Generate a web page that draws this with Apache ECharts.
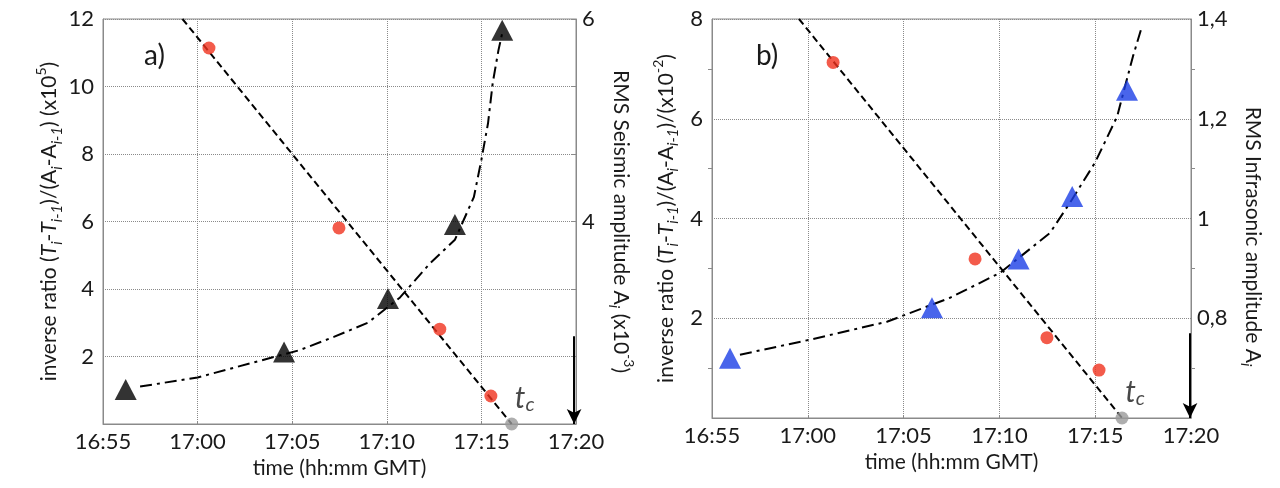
<!DOCTYPE html>
<html>
<head>
<meta charset="utf-8">
<script src="https://cdn.jsdelivr.net/npm/echarts@6/dist/echarts.min.js"></script>
<style>html,body{margin:0;padding:0;background:#fff;}#c{width:1280px;height:488px;}</style>
</head>
<body>
<div id="c"></div>
<script>
// ---- tick labels ----
const xTicks = ['16:55', '17:00', '17:05', '17:10', '17:15', '17:20'];
const leftValsA = [2, 4, 6, 8, 10, 12];
const leftLabelsA = ['2', '4', '6', '8', '10', '12'];
const rightValsA = [4, 6];
const rightLabelsA = ['4', '6'];
const leftValsB = [2, 4, 6, 8];
const leftLabelsB = ['2', '4', '6', '8'];
const rightValsB = [0.8, 1.0, 1.2, 1.4];
const rightLabelsB = ['0,8', '1', '1,2', '1,4'];

// ---- panel a data (time in minutes after 16:00) ----
const redTimeA = [60.6, 67.47, 72.8, 75.5];
const redValA = [11.14, 5.81, 2.81, 0.83];
const tcTimeA = [76.6];
const tcValA = [0];
const fitTimeA = [59.2, 76.6];
const fitValA = [12, 0];
const triTimeA = [56.2, 64.57, 70.06, 73.6, 76.1];
const triValA = [2.34, 2.71, 3.24, 3.97, 5.89];
const curveTimeA = [56.96, 60.0, 65.4, 67.2, 69.0, 70.7, 72.3, 73.6, 74.6, 75.0, 75.35, 75.6, 75.9, 76.1];
const curveValA = [2.37, 2.46, 2.73, 2.86, 3.0, 3.25, 3.59, 3.82, 4.24, 4.61, 4.97, 5.37, 5.69, 5.86];
const arrowTimeA = [79.9, 79.9];
const arrowValA = [2.6, 0];

// ---- panel b data ----
const redTimeB = [61.32, 68.73, 72.48, 75.2];
const redValB = [7.13, 3.19, 1.61, 0.96];
const tcTimeB = [76.4];
const tcValB = [0];
const fitTimeB = [59.54, 76.4];
const fitValB = [8, 0];
const triTimeB = [55.94, 66.48, 71.0, 73.8, 76.66];
const triValB = [0.72, 0.821, 0.919, 1.044, 1.257];
const curveTimeB = [56.46, 60.11, 64.13, 67.42, 70.03, 72.64, 73.79, 74.99, 76.14, 76.97, 77.44];
const curveValB = [0.727, 0.757, 0.793, 0.841, 0.891, 0.971, 1.038, 1.112, 1.204, 1.325, 1.385];
const arrowTimeB = [79.95, 79.95];
const arrowValB = [1.7, 0];

const zip = (a, b) => a.map((v, i) => [v, b[i]]);
const pick = (vals, labels) => v => {
  const i = vals.findIndex(t => Math.abs(t - v) < 1e-6);
  return i < 0 ? '' : labels[i];
};

const FONT = 'Lato';
const TXT = '#1a1a1a';
const GRID = '#8a8a8a';
const RED = '#f0321e';
const BLUE = '#1c3ee6';

const nameRich = {
  n: { fontSize: 21, lineHeight: 30, fontFamily: FONT, color: TXT },
  it: { fontSize: 21, lineHeight: 30, fontFamily: FONT, fontStyle: 'italic', color: TXT },
  sub: { fontSize: 15, lineHeight: 15, fontFamily: FONT, fontStyle: 'italic', color: TXT, verticalAlign: 'bottom' },
  sup: { fontSize: 14, lineHeight: 14, fontFamily: FONT, color: TXT, verticalAlign: 'top' }
};

function xAxis(gi) {
  return {
    type: 'value', gridIndex: gi, min: 55, max: 80, interval: 5,
    name: 'time (hh:mm GMT)', nameLocation: 'middle', nameGap: 34,
    nameTextStyle: { fontSize: 21, fontFamily: FONT, color: TXT },
    axisLine: { show: true, lineStyle: { color: GRID } },
    axisTick: { show: true, inside: true, length: 3, lineStyle: { color: GRID } },
    axisLabel: { fontSize: 22, fontFamily: FONT, color: TXT, margin: 7,
      formatter: v => xTicks[Math.round((v - 55) / 5)] },
    splitLine: { show: true, lineStyle: { color: GRID, type: 'dotted' } }
  };
}

const tcLabel = {
  show: true, position: 'top', distance: 3, offset: [13, 0],
  formatter: '{t|t}{c|c}',
  rich: {
    t: { fontSize: 30, lineHeight: 32, fontStyle: 'italic', fontFamily: FONT, color: TXT },
    c: { fontSize: 20, lineHeight: 19, fontStyle: 'italic', fontFamily: FONT, color: TXT, verticalAlign: 'bottom' }
  }
};

function arrowLine(t, v) {
  return {
    silent: true,
    symbol: ['none', 'arrow'],
    symbolSize: [11, 15],
    label: { show: false },
    lineStyle: { color: '#000', width: 2, type: 'solid' },
    data: [[{ coord: [t[0], v[0]] }, { coord: [t[1], v[1]] }]]
  };
}

const option = {
  animation: false,
  backgroundColor: '#fff',
  title: [
    { text: 'a)', left: 139, top: 37, textStyle: { fontSize: 28, fontWeight: 'normal', fontFamily: FONT, color: TXT } },
    { text: 'b)', left: 751, top: 37, textStyle: { fontSize: 28, fontWeight: 'normal', fontFamily: FONT, color: TXT } }
  ],
  grid: [
    { left: 103, top: 19, width: 473, height: 405, show: true, borderColor: GRID, borderWidth: 1, backgroundColor: 'transparent' },
    { left: 712, top: 19, width: 479, height: 399, show: true, borderColor: GRID, borderWidth: 1, backgroundColor: 'transparent' }
  ],
  xAxis: [xAxis(0), xAxis(1)],
  yAxis: [
    {
      type: 'value', gridIndex: 0, min: 0, max: 12, interval: 2, position: 'left',
      name: '{n|inverse ratio (}{it|T}{sub|i}{n|-}{it|T}{sub|i-1}{n|)/(A}{sub|i}{n|-A}{sub|i-1}{n|) (x10}{sup|5}{n|)}',
      nameLocation: 'middle', nameGap: 35, nameRotate: 90,
      nameTextStyle: { rich: nameRich },
      axisLine: { show: true, lineStyle: { color: GRID } },
      axisTick: { show: false },
      axisLabel: { fontSize: 22, fontFamily: FONT, color: TXT, margin: 9, formatter: pick(leftValsA, leftLabelsA) },
      splitLine: { show: true, lineStyle: { color: GRID, type: 'dotted' } }
    },
    {
      type: 'value', gridIndex: 0, min: 2, max: 6, interval: 2 / 3, position: 'right',
      name: '{n|RMS Seismic amplitude A}{sub|i}{n| (x10}{sup|-3}{n|)}',
      nameLocation: 'middle', nameGap: 30, nameRotate: -90,
      nameTextStyle: { rich: nameRich },
      axisLine: { show: true, lineStyle: { color: GRID } },
      axisTick: { show: true, inside: true, length: 4, lineStyle: { color: GRID } },
      axisLabel: { fontSize: 22, fontFamily: FONT, color: TXT, margin: 6, formatter: pick(rightValsA, rightLabelsA) },
      splitLine: { show: false }
    },
    {
      type: 'value', gridIndex: 1, min: 0, max: 8, interval: 2, position: 'left',
      name: '{n|inverse ratio (}{it|T}{sub|i}{n|-}{it|T}{sub|i-1}{n|)/(A}{sub|i}{n|-A}{sub|i-1}{n|)/(x10}{sup|-2}{n|)}',
      nameLocation: 'middle', nameGap: 31, nameRotate: 90,
      nameTextStyle: { rich: nameRich },
      axisLine: { show: true, lineStyle: { color: GRID } },
      axisTick: { show: false },
      minorTick: { show: true, splitNumber: 2, length: 4, lineStyle: { color: GRID } },
      axisLabel: { fontSize: 22, fontFamily: FONT, color: TXT, margin: 9, formatter: pick(leftValsB, leftLabelsB) },
      splitLine: { show: true, lineStyle: { color: GRID, type: 'dotted' } }
    },
    {
      type: 'value', gridIndex: 1, min: 0.6, max: 1.4, interval: 0.2, position: 'right',
      name: '{n|RMS Infrasonic amplitude A}{sub|i}',
      nameLocation: 'middle', nameGap: 47, nameRotate: -90,
      nameTextStyle: { rich: nameRich, padding: [0, 0, 0, 36] },
      axisLine: { show: true, lineStyle: { color: GRID } },
      axisTick: { show: false },
      minorTick: { show: true, splitNumber: 2, length: 4, lineStyle: { color: GRID } },
      axisLabel: { fontSize: 22, fontFamily: FONT, color: TXT, margin: 6, formatter: pick(rightValsB, rightLabelsB) },
      splitLine: { show: false }
    }
  ],
  series: [
    // ---- panel a ----
    { type: 'line', xAxisIndex: 0, yAxisIndex: 0, data: zip(fitTimeA, fitValA), symbol: 'none',
      lineStyle: { color: '#000', width: 2, type: [7, 4] }, z: 2,
      markLine: arrowLine(arrowTimeA, arrowValA) },
    { type: 'line', xAxisIndex: 0, yAxisIndex: 1, data: zip(curveTimeA, curveValA), symbol: 'none',
      lineStyle: { color: '#000', width: 2, type: [12, 5, 3, 5] }, z: 2 },
    { type: 'scatter', xAxisIndex: 0, yAxisIndex: 1, data: zip(triTimeA, triValA), symbol: 'triangle',
      symbolSize: [22, 21], itemStyle: { color: '#000' }, z: 4 },
    { type: 'scatter', xAxisIndex: 0, yAxisIndex: 0, data: zip(redTimeA, redValA), symbol: 'circle',
      symbolSize: 13, itemStyle: { color: RED }, z: 4 },
    { type: 'scatter', xAxisIndex: 0, yAxisIndex: 0, data: zip(tcTimeA, tcValA), symbol: 'circle',
      symbolSize: 13, itemStyle: { color: '#9a9a9a' }, z: 5, clip: false, label: tcLabel },
    // ---- panel b ----
    { type: 'line', xAxisIndex: 1, yAxisIndex: 2, data: zip(fitTimeB, fitValB), symbol: 'none',
      lineStyle: { color: '#000', width: 2, type: [7, 4] }, z: 2,
      markLine: arrowLine(arrowTimeB, arrowValB) },
    { type: 'line', xAxisIndex: 1, yAxisIndex: 3, data: zip(curveTimeB, curveValB), symbol: 'none',
      lineStyle: { color: '#000', width: 2, type: [12, 5, 3, 5] }, z: 2 },
    { type: 'scatter', xAxisIndex: 1, yAxisIndex: 3, data: zip(triTimeB, triValB), symbol: 'triangle',
      symbolSize: [22, 21], itemStyle: { color: BLUE }, z: 4 },
    { type: 'scatter', xAxisIndex: 1, yAxisIndex: 2, data: zip(redTimeB, redValB), symbol: 'circle',
      symbolSize: 13, itemStyle: { color: RED }, z: 4 },
    { type: 'scatter', xAxisIndex: 1, yAxisIndex: 2, data: zip(tcTimeB, tcValB), symbol: 'circle',
      symbolSize: 13, itemStyle: { color: '#9a9a9a' }, z: 5, clip: false, label: tcLabel }
  ]
};

const chart = echarts.init(document.getElementById('c'), null, { renderer: 'canvas' });
chart.setOption(option);
</script>
</body>
</html>
